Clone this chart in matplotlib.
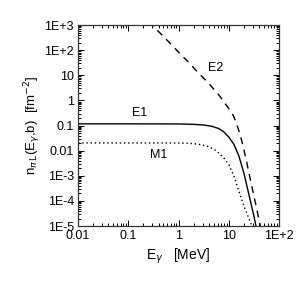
import matplotlib
matplotlib.use("Agg")
import matplotlib.pyplot as plt
from matplotlib.ticker import FixedLocator, FixedFormatter, LogLocator, NullFormatter

plt.rcParams['font.family'] = ['Liberation Sans', 'DejaVu Sans']

# E1 curve
e1_E = [0.01, 0.1, 1.0, 2.0, 3.16, 4.47, 6.31, 7.94, 10.0, 12.6, 15.8, 20.0, 25.1, 31.6, 34.7, 36.3]
e1_n = [0.117, 0.117, 0.116, 0.112, 0.105, 0.095, 0.076, 0.056, 0.035, 0.018, 6.3e-3, 1.26e-3, 1.8e-4, 2.5e-5, 1.0e-5, 5.0e-6]

# M1 curve
m1_E = [0.01, 1.0, 1.58, 2.51, 3.98, 5.62, 7.94, 10.0, 12.6, 15.8, 20.0, 25.1, 28.8, 30.2]
m1_n = [0.0204, 0.0202, 0.0197, 0.0182, 0.0145, 0.010, 5.2e-3, 2.8e-3, 1.0e-3, 2.5e-4, 6.3e-5, 2.0e-5, 1.0e-5, 6.3e-6]

# E2 curve
e2_E = [0.25, 0.40, 0.63, 1.0, 1.58, 2.51, 3.98, 6.31, 7.94, 10.0, 11.2, 12.6, 14.1, 15.8, 17.8, 20.0, 22.4, 25.1, 31.6, 39.8, 44.7]
e2_n = [1350, 550, 219, 83, 33, 12, 4.8, 1.66, 0.89, 0.47, 0.34, 0.224, 0.126, 0.063, 0.028, 0.0105, 4.0e-3, 1.3e-3, 1.6e-4, 1.8e-5, 6.3e-6]

x_ticks = [0.01, 0.1, 1, 10, 100]
x_labels = ['0.01', '0.1', '1', '10', '1E+2']
y_ticks = [1e-5, 1e-4, 1e-3, 1e-2, 1e-1, 1, 10, 100, 1000]
y_labels = ['1E-5', '1E-4', '1E-3', '0.01', '0.1', '1', '10', '1E+2', '1E+3']

fig = plt.figure(figsize=(3.05, 2.91), dpi=100)
ax = fig.add_axes([0.256, 0.223, 0.659, 0.691])

ax.plot(e1_E, e1_n, color='black', lw=1.0, ls='-')
ax.plot(m1_E, m1_n, color='black', lw=1.0, ls=(0, (1, 2)))
ax.plot(e2_E, e2_n, color='black', lw=1.0, ls=(0, (5, 4)))

ax.set_xscale('log')
ax.set_yscale('log')
ax.set_xlim(0.01, 100)
ax.set_ylim(1e-5, 1e3)

ax.xaxis.set_major_locator(FixedLocator(x_ticks))
ax.xaxis.set_major_formatter(FixedFormatter(x_labels))
ax.yaxis.set_major_locator(FixedLocator(y_ticks))
ax.yaxis.set_major_formatter(FixedFormatter(y_labels))
ax.xaxis.set_minor_locator(LogLocator(base=10, subs=range(2, 10), numticks=20))
ax.yaxis.set_minor_locator(LogLocator(base=10, subs=range(2, 10), numticks=20))
ax.xaxis.set_minor_formatter(NullFormatter())
ax.yaxis.set_minor_formatter(NullFormatter())

ax.tick_params(which='both', direction='in', top=True, right=True, labelsize=9, width=0.7, pad=3)
ax.tick_params(which='major', length=4)
ax.tick_params(which='minor', length=2)
for s in ax.spines.values():
    s.set_linewidth(0.9)
    s.set_color('#333333')

ax.set_xlabel(r'E$_\gamma$   [MeV]', fontsize=10, labelpad=3)
ax.set_ylabel(r'n$_{\pi\,\mathrm{L}}$(E$_\gamma$,b)  [fm$^{-2}$]', fontsize=9.5, labelpad=1)

ax.text(0.308, 0.562, 'E1', transform=ax.transAxes, fontsize=9, ha='center', va='center')
ax.text(0.40, 0.353, 'M1', transform=ax.transAxes, fontsize=9, ha='center', va='center')
ax.text(0.682, 0.785, 'E2', transform=ax.transAxes, fontsize=9, ha='center', va='center')

fig.savefig('out.png', dpi=100)
